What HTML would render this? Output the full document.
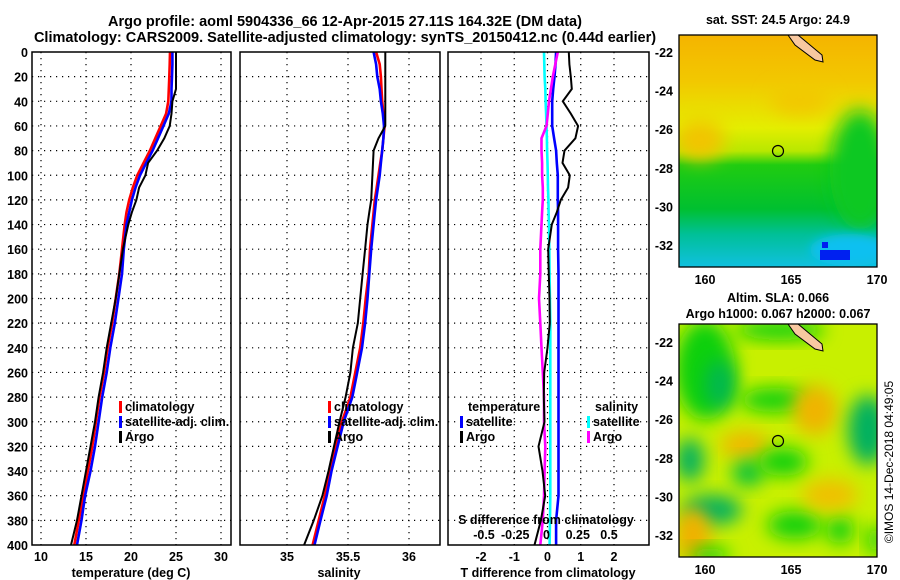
<!DOCTYPE html>
<html><head><meta charset="utf-8"><style>
body{margin:0;background:#fff;}
svg{display:block;font-family:"Liberation Sans",sans-serif;font-weight:bold;}
</style></head><body>
<svg id="c" width="900" height="580" viewBox="0 0 900 580">
<defs>
<filter id="bl" x="-50%" y="-50%" width="200%" height="200%"><feGaussianBlur stdDeviation="9"/></filter>
<filter id="bl2" x="-50%" y="-50%" width="200%" height="200%"><feGaussianBlur stdDeviation="5"/></filter>
<linearGradient id="sstg" x1="0" y1="0" x2="0" y2="1">
<stop offset="0" stop-color="#f5b400"/><stop offset="0.2" stop-color="#f2c800"/>
<stop offset="0.4" stop-color="#e4ee00"/><stop offset="0.5" stop-color="#b8e800"/>
<stop offset="0.56" stop-color="#20cc10"/><stop offset="0.75" stop-color="#00c030"/>
<stop offset="0.86" stop-color="#00c098"/><stop offset="1" stop-color="#10c0e0"/>
</linearGradient>
<clipPath id="cm1"><rect x="679" y="35" width="198" height="232"/></clipPath>
<clipPath id="cm2"><rect x="679" y="324" width="198" height="233"/></clipPath>
</defs>
<text x="345" y="26" font-size="14.5" text-anchor="middle">Argo profile: aoml 5904336_66 12-Apr-2015 27.11S 164.32E (DM data)</text>
<text x="345" y="42" font-size="14.5" text-anchor="middle">Climatology: CARS2009. Satellite-adjusted climatology: synTS_20150412.nc (0.44d earlier)</text>
<g id="g"></g>

<!-- top map -->
<g clip-path="url(#cm1)">
<rect x="679" y="35" width="198" height="232" fill="url(#sstg)"/>
<ellipse cx="860" cy="170" rx="30" ry="60" fill="#10c820" filter="url(#bl)"/>
<ellipse cx="700" cy="140" rx="25" ry="20" fill="#f2c400" filter="url(#bl)"/>
<ellipse cx="800" cy="100" rx="30" ry="15" fill="#f2c800" filter="url(#bl)"/>
<ellipse cx="850" cy="250" rx="40" ry="16" fill="#10c0f0" filter="url(#bl2)"/>
<rect x="820" y="250" width="30" height="10" fill="#0020f0"/>
<rect x="822" y="242" width="6" height="6" fill="#0020f0"/>
</g>
<g>
<polygon points="788,35 798,35 822,55 823,62 815,60 795,45" fill="#f8c8a0" stroke="#000" stroke-width="1"/>
<rect x="679" y="35" width="198" height="232" fill="none" stroke="#000" stroke-width="1.3"/>
<circle cx="778" cy="151" r="5.5" fill="none" stroke="#000" stroke-width="1.2"/>
</g>
<text x="778" y="24" font-size="12.5" text-anchor="middle">sat. SST: 24.5 Argo: 24.9</text>

<!-- bottom map -->
<g clip-path="url(#cm2)">
<rect x="679" y="324" width="198" height="233" fill="#c8f000"/>
<ellipse cx="705" cy="370" rx="30" ry="50" fill="#10d010" filter="url(#bl)"/>
<ellipse cx="720" cy="385" rx="15" ry="25" fill="#00b850" filter="url(#bl)"/>
<ellipse cx="780" cy="330" rx="45" ry="10" fill="#10d010" filter="url(#bl)"/>
<ellipse cx="775" cy="400" rx="35" ry="12" fill="#10d010" filter="url(#bl)"/>
<ellipse cx="745" cy="445" rx="25" ry="14" fill="#f0b800" filter="url(#bl)"/>
<ellipse cx="815" cy="410" rx="22" ry="25" fill="#f0b400" filter="url(#bl)"/>
<ellipse cx="868" cy="430" rx="20" ry="35" fill="#00b060" filter="url(#bl)"/>
<ellipse cx="690" cy="460" rx="14" ry="22" fill="#00b060" filter="url(#bl)"/>
<ellipse cx="748" cy="473" rx="16" ry="13" fill="#00c040" filter="url(#bl)"/>
<ellipse cx="783" cy="462" rx="25" ry="14" fill="#10d010" filter="url(#bl)"/>
<ellipse cx="712" cy="510" rx="30" ry="15" fill="#00b060" filter="url(#bl)"/>
<ellipse cx="693" cy="535" rx="18" ry="28" fill="#f0b000" filter="url(#bl)"/>
<ellipse cx="795" cy="525" rx="28" ry="14" fill="#10d010" filter="url(#bl)"/>
<ellipse cx="840" cy="530" rx="14" ry="14" fill="#10d010" filter="url(#bl)"/>
<ellipse cx="830" cy="495" rx="28" ry="16" fill="#f0c000" filter="url(#bl)"/>
<ellipse cx="710" cy="555" rx="20" ry="8" fill="#10d010" filter="url(#bl)"/>
<ellipse cx="875" cy="540" rx="8" ry="15" fill="#10d010" filter="url(#bl)"/>
</g>
<g>
<polygon points="788,324 798,324 822,344 823,351 815,349 795,334" fill="#f8c8a0" stroke="#000" stroke-width="1"/>
<rect x="679" y="324" width="198" height="233" fill="none" stroke="#000" stroke-width="1.3"/>
<circle cx="778" cy="441" r="5.5" fill="none" stroke="#000" stroke-width="1.2"/>
</g>
<text x="778" y="302" font-size="12.5" text-anchor="middle">Altim. SLA: 0.066</text>
<text x="778" y="318" font-size="12.5" text-anchor="middle">Argo h1000: 0.067 h2000: 0.067</text>
<text transform="translate(893,462) rotate(-90)" font-size="12" font-weight="normal" text-anchor="middle">©IMOS 14-Dec-2018 04:49:05</text>
</svg>
<script>
const depths=[0,10,20,30,40,50,60,70,80,90,100,110,120,130,140,160,180,200,220,240,260,280,300,320,340,360,380,400];
const tempClim=[24.33,24.3,24.25,24.2,24.15,23.9,23.3,22.7,22.1,21.4,20.7,20.2,19.8,19.5,19.3,19.0,18.7,18.3,17.9,17.4,17.0,16.5,16.1,15.7,15.2,14.7,14.2,13.7];
const tempSat=[24.6,24.6,24.55,24.5,24.5,24.2,23.6,23.0,22.4,21.7,21.0,20.5,20.1,19.8,19.5,19.2,19.0,18.6,18.2,17.7,17.3,16.8,16.4,16.0,15.5,14.9,14.5,14.0];
const tempArgo=[25.0,25.0,25.0,25.0,24.6,24.5,24.3,23.7,22.9,21.9,21.6,20.9,20.6,20.1,19.7,19.1,18.7,18.3,17.8,17.3,16.9,16.4,16.0,15.5,15.0,14.5,14.0,13.33];
const salClim=[35.73,35.76,35.77,35.775,35.78,35.79,35.80,35.79,35.78,35.765,35.75,35.735,35.72,35.71,35.70,35.68,35.67,35.645,35.625,35.60,35.56,35.52,35.45,35.40,35.35,35.31,35.26,35.21];
const salSat=[35.71,35.73,35.74,35.76,35.77,35.785,35.795,35.79,35.78,35.77,35.76,35.745,35.73,35.72,35.71,35.69,35.675,35.66,35.64,35.615,35.575,35.535,35.465,35.415,35.365,35.325,35.275,35.225];
const salArgo=[35.806,35.806,35.806,35.806,35.806,35.806,35.806,35.75,35.71,35.705,35.70,35.695,35.69,35.675,35.66,35.64,35.62,35.60,35.58,35.54,35.52,35.48,35.43,35.385,35.34,35.29,35.22,35.14];
const tDiffArgo=[0.64,0.66,0.70,0.73,0.46,0.70,0.92,0.84,0.51,0.45,0.67,0.62,0.40,0.28,0.13,0.02,0.04,0.06,0.07,0.0,-0.1,-0.11,-0.09,-0.27,-0.15,-0.07,-0.2,-0.39];
const tDiffSat=[0.26,0.24,0.21,0.17,0.14,0.14,0.14,0.2,0.26,0.28,0.31,0.31,0.31,0.32,0.32,0.32,0.33,0.33,0.33,0.33,0.33,0.33,0.33,0.33,0.33,0.33,0.26,0.26];
const sDiffSat=[-0.02,-0.018,-0.015,-0.01,-0.007,-0.003,0,0.003,0.005,0.008,0.01,0.012,0.015,0.017,0.02,0.022,0.025,0.027,0.03,0.03,0.03,0.03,0.03,0.03,0.03,0.03,0.028,0.025];
const sDiffArgo=[0.09,0.07,0.05,0.035,0.02,0.01,0,-0.04,-0.04,-0.035,-0.035,-0.03,-0.03,-0.035,-0.04,-0.05,-0.05,-0.06,-0.05,-0.04,-0.03,-0.02,-0.02,-0.01,-0.015,-0.02,-0.03,-0.05];
const depthTicks=[0,20,40,60,80,100,120,140,160,180,200,220,240,260,280,300,320,340,360,380,400];
const tempTicks=[10,15,20,25,30];
const salTicks=[35,35.5,36];
const salTickLabels=["35","35.5","36"];
const tdTicks=[-2,-1,0,1,2];
const sdTicks=[-0.5,-0.25,0,0.25,0.5];
const sdTickLabels=["-0.5","-0.25","0","0.25","0.5"];
const latTicks=[-22,-24,-26,-28,-30,-32];
const lonTicks=[160,165,170];

const NS="http://www.w3.org/2000/svg";
const G=document.getElementById('g');
function mk(tag,attrs,parent){const e=document.createElementNS(NS,tag);for(const k in attrs)e.setAttribute(k,attrs[k]);(parent||G).appendChild(e);return e;}
const yTop=52,yBot=545;
const yS=d=>yTop+(d/400)*(yBot-yTop);
function lin(d0,d1,r0,r1){return v=>r0+(v-d0)/(d1-d0)*(r1-r0);}
const P=[
 {x0:32,x1:231,name:'temperature'},
 {x0:240,x1:440,name:'salinity'},
 {x0:448,x1:649,name:'difference'}];
const xT=lin(10,30,41,221), xS=lin(35,36,287,409), xTD=lin(-2,2,481,614), xSD=lin(-0.5,0.5,484,609);

function grid(p,xs,xf){
  const g=mk('g',{});
  
  
  xs.forEach(v=>{const x=xf(v);const l=mk('line',{x1:x,x2:x,y1:yTop,y2:yBot,stroke:'#000','stroke-width':1.2,'stroke-dasharray':'1.2 4.8'},g);});
  depthTicks.forEach(d=>{if(d===0||d===400)return;const y=yS(d);mk('line',{x1:p.x0,x2:p.x1,y1:y,y2:y,stroke:'#000','stroke-width':1.2,'stroke-dasharray':'1.2 4.8'},g);});
}
function frame(p){
  const r=mk('rect',{x:p.x0,y:yTop,width:p.x1-p.x0,height:yBot-yTop,fill:'none',stroke:'#000','stroke-width':1.5});
  
  
}
function line(vals,xf,color,w,name){
  const pts=depths.map((d,i)=>xf(vals[i]).toFixed(1)+','+yS(d).toFixed(1)).join(' ');
  const pl=mk('polyline',{points:pts,fill:'none',stroke:color,'stroke-width':w,'stroke-linejoin':'miter'});
  
  
}
function txt(x,y,s,size,anchor,name){
  const t=mk('text',{x:x,y:y,'font-size':size,'text-anchor':anchor||'start'});
  t.textContent=s;
  
  
  return t;
}
// y tick labels
depthTicks.forEach(d=>{txt(28,yS(d)+5,String(d),12.5,'end','depth-tick-label');});
// panels
grid(P[0],tempTicks,xT); grid(P[1],salTicks,xS); grid(P[2],tdTicks,xTD);
line(tempClim,xT,'#f00',2.6,'temp-climatology-line');
line(tempSat,xT,'#00f',2.6,'temp-satellite-line');
line(tempArgo,xT,'#000',2,'temp-argo-line');
line(salClim,xS,'#f00',2.6,'sal-climatology-line');
line(salSat,xS,'#00f',2.6,'sal-satellite-line');
line(salArgo,xS,'#000',2,'sal-argo-line');
line(tDiffSat,xTD,'#00f',2.6,'tdiff-satellite-line');
line(sDiffSat,xSD,'#0ff',2.6,'sdiff-satellite-line');
line(sDiffArgo,xSD,'#f0f',2.6,'sdiff-argo-line');
line(tDiffArgo,xTD,'#000',2,'tdiff-argo-line');
P.forEach(frame);
tempTicks.forEach(v=>txt(xT(v),561,String(v),12.5,'middle','temp-tick-label'));
salTicks.forEach((v,i)=>txt(xS(v),561,salTickLabels[i],12.5,'middle','sal-tick-label'));
tdTicks.forEach(v=>txt(xTD(v),561,String(v),12.5,'middle','tdiff-tick-label'));
sdTicks.forEach((v,i)=>txt(xSD(v),539,sdTickLabels[i],12.5,'middle','sdiff-tick-label'));
txt(131,577,'temperature (deg C)',12.5,'middle','temp-axis-title');
txt(339,577,'salinity',12.5,'middle','sal-axis-title');
txt(548,577,'T difference from climatology',12.5,'middle','tdiff-axis-title');
txt(546,524,'S difference from climatology',12.5,'middle','sdiff-axis-title');
// legends
function leg(x,y,color,label,name){
  const r=mk('rect',{x:x,y:y-10,width:3,height:12,fill:color});
  
  
  txt(x+6,y,label,12.5,'start',name+'-label');
}
[[119,'climatology','#f00'],[119,'satellite-adj. clim.','#00f'],[119,'Argo','#000']].forEach((a,i)=>leg(a[0],411+i*15,a[2],a[1],'temp-legend-entry'));
[[328,'climatology','#f00'],[328,'satellite-adj. clim.','#00f'],[328,'Argo','#000']].forEach((a,i)=>leg(a[0],411+i*15,a[2],a[1],'sal-legend-entry'));
txt(468,411,'temperature',12.5,'start','tdiff-legend-title');
leg(460,426,'#00f','satellite','tdiff-legend-entry');
leg(460,441,'#000','Argo','tdiff-legend-entry');
txt(595,411,'salinity',12.5,'start','sdiff-legend-title');
leg(587,426,'#0ff','satellite','sdiff-legend-entry');
leg(587,441,'#f0f','Argo','sdiff-legend-entry');
// map axes
const latY1=lin(-22,-32,52,245), latY2=lin(-22,-32,342,535), lonX=lin(160,170,705,877);
[[latY1,267],[latY2,557]].forEach(([f,yb],k)=>{
  latTicks.forEach(v=>{txt(673,f(v)+5,String(v),12.5,'end','map-lat-tick-label');
    const t=mk('line',{x1:679,x2:684,y1:f(v),y2:f(v),stroke:'#000','stroke-width':1});
    
    
    const t2=mk('line',{x1:872,x2:877,y1:f(v),y2:f(v),stroke:'#000','stroke-width':1});
    
    });
  lonTicks.forEach(v=>{txt(lonX(v),yb+17,String(v),12.5,'middle','map-lon-tick-label');
    const t=mk('line',{x1:lonX(v),x2:lonX(v),y1:yb,y2:yb-5,stroke:'#000','stroke-width':1});
    
    });
});
</script>
</body></html>
